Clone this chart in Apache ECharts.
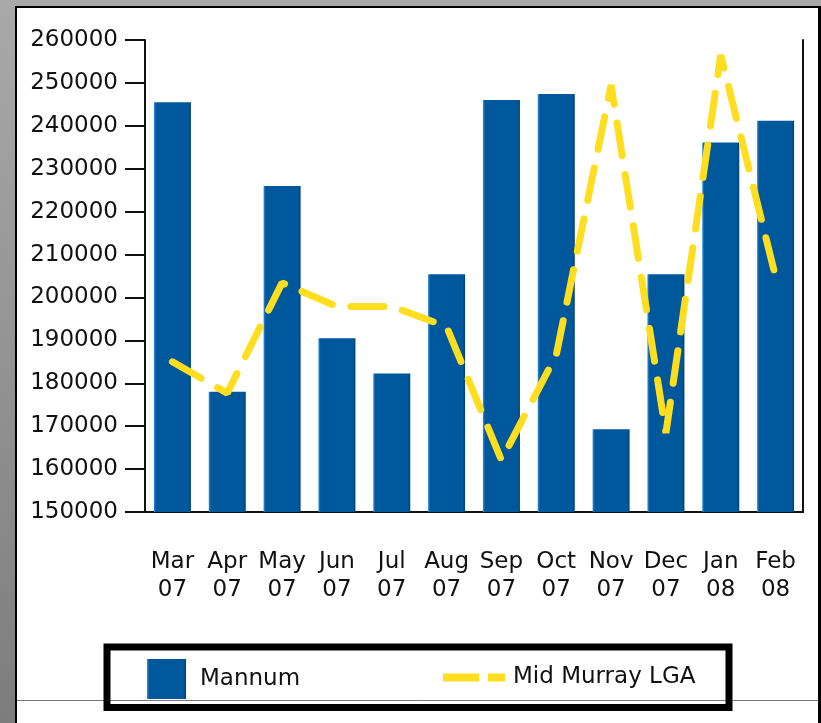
<!DOCTYPE html>
<html>
<head>
<meta charset="utf-8">
<script src="https://cdn.jsdelivr.net/npm/echarts@6/dist/echarts.min.js"></script>
<style>
    html, body { margin: 0; padding: 0; }
    body {
        width: 821px; height: 723px; overflow: hidden; position: relative;
        background: linear-gradient(to bottom, #a9a9a9, #7d7d7d);
    }
    #frame {
        position: absolute; left: 15px; top: 6px;
        width: 801px; height: 717px;
        background: #fff;
        border-left: 2px solid #000; border-top: 2px solid #000; border-right: 3px solid #000;
    }
    #div_echarts { position: absolute; left: 0; top: 0; width: 821px; height: 723px; }
</style>
</head>
<body>
<div id="frame"></div>
<div id="div_echarts"></div>
<script>
// months along the bottom
var categories = ['Mar\n07', 'Apr\n07', 'May\n07', 'Jun\n07', 'Jul\n07', 'Aug\n07',
                  'Sep\n07', 'Oct\n07', 'Nov\n07', 'Dec\n07', 'Jan\n08', 'Feb\n08'];
// Mannum (bars)
var mannum = [245500, 178000, 226000, 190500, 182300, 205400,
              246000, 247400, 169300, 205400, 236100, 241200];
// Mid Murray LGA (dashed line)
var midMurray = [185000, 177700, 203400, 197900, 197900, 193200,
                 162100, 186600, 249500, 168400, 256500, 204800];
// value axis range
var yMin = 150000;
var yMax = 260000;
var yStep = 10000;

var initEcharts = function () {
    var myChart = echarts.init(document.getElementById('div_echarts'));
    var font = 'DejaVu Sans';
    var barColor = new echarts.graphic.LinearGradient(0, 0, 1, 0, [
        {offset: 0, color: '#2f8fe0'},
        {offset: 0.06, color: '#00589c'},
        {offset: 0.94, color: '#00589c'},
        {offset: 1, color: '#003c6c'}
    ]);
    var option = {
        animation: false,
        grid: {left: 145, right: 18, top: 40, bottom: 211},
        legend: [
            {
                data: [{name: 'Mannum', icon: 'rect'}],
                left: 147, top: 659, padding: 0,
                itemWidth: 39, itemHeight: 40,
                textStyle: {fontFamily: font, fontSize: 23, color: '#111', padding: [0, 0, 0, 9]}
            },
            {
                // dashed swatch: long dash, gap, short dash
                data: [{name: 'Mid Murray LGA', icon: 'path://M0,0H36V8H0Z M45,0H62V8H45Z'}],
                left: 443, top: 666, padding: 0,
                itemWidth: 62, itemHeight: 8,
                textStyle: {fontFamily: font, fontSize: 23, color: '#111', padding: [0, 0, 0, 3]}
            }
        ],
        xAxis: {
            type: 'category',
            data: categories,
            axisLine: {lineStyle: {color: '#111', width: 2}},
            axisTick: {alignWithLabel: true, length: 12, lineStyle: {color: '#111', width: 2}},
            axisLabel: {fontFamily: font, fontSize: 23, color: '#111', lineHeight: 28, margin: 36, interval: 0}
        },
        yAxis: [
            {
                type: 'value',
                min: yMin, max: yMax, interval: yStep,
                splitLine: {show: false},
                axisLine: {show: true, lineStyle: {color: '#111', width: 2}},
                axisTick: {show: true, length: 20, lineStyle: {color: '#111', width: 2}},
                axisLabel: {
                    fontFamily: font, fontSize: 23, color: '#111', margin: 27,
                    formatter: function (v) { return String(v); }
                }
            },
            {
                type: 'value',
                min: yMin, max: yMax, interval: yStep,
                splitLine: {show: false},
                axisLine: {show: true, lineStyle: {color: '#111', width: 2}},
                axisTick: {show: false},
                axisLabel: {show: false}
            }
        ],
        graphic: [
            {
                type: 'line', z: 0,
                shape: {x1: 17, y1: 700.5, x2: 818, y2: 700.5},
                style: {stroke: '#777', lineWidth: 1}
            },
            {
                type: 'rect', z: 10,
                shape: {x: 107, y: 647, width: 622, height: 60.5},
                style: {fill: 'none', stroke: '#000', lineWidth: 7}
            }
        ],
        series: [
            {
                name: 'Mannum',
                type: 'bar',
                data: mannum,
                barWidth: 37,
                itemStyle: {color: barColor}
            },
            {
                name: 'Mid Murray LGA',
                type: 'line',
                data: midMurray,
                symbol: 'none',
                itemStyle: {color: '#ffdd1f'},
                lineStyle: {color: '#ffdd1f', width: 7, type: [33, 19], cap: 'round'}
            }
        ]
    };
    myChart.setOption(option);
};

initEcharts();
</script>
</body>
</html>
